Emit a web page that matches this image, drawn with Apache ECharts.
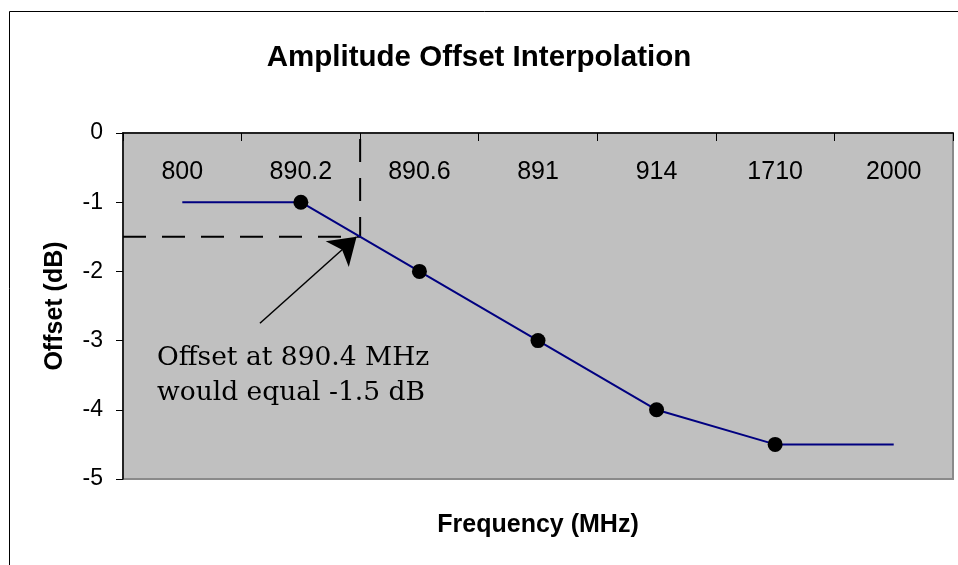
<!DOCTYPE html>
<html>
<head>
<meta charset="utf-8">
<script src="https://cdn.jsdelivr.net/npm/echarts@6/dist/echarts.min.js"></script>
<style>html,body{margin:0;padding:0;background:#fff;}#c{width:958px;height:565px;}</style>
</head>
<body>
<div id="c"></div>
<script>
var categories = ['800', '890.2', '890.6', '891', '914', '1710', '2000'];
var offsets = [-1, -1, -2, -3, -4, -4.5, -4.5];
var markers = [false, true, true, true, true, true, false];
var yTicks = [0, -1, -2, -3, -4, -5];
// interpolation guide (category index, dB)
var guideIndex = 1.5;
var guideValue = -1.5;
var arrowFrom = [0.655, -2.75];
var arrowTo = [1.47, -1.5];
var titleText = 'Amplitude Offset Interpolation';
var noteLines = ['Offset at 890.4 MHz', 'would equal -1.5 dB'];

var chart = echarts.init(document.getElementById('c'), null, {renderer: 'canvas'});
var mainData = offsets.map(function (v, i) {
  return markers[i] ? {value: v} : {value: v, symbol: 'none'};
});
var option = {
  animation: false,
  backgroundColor: '#ffffff',
  title: {
    text: titleText, left: 'center', top: 38,
    textStyle: {fontFamily: 'Liberation Sans', fontWeight: 'bold', fontSize: 29.5, color: '#000'}
  },
  graphic: [
    {type: 'rect', shape: {x: 9.5, y: 11.5, width: 1200, height: 1200}, style: {fill: 'none', stroke: '#000', lineWidth: 1}, z: 100},
    {type: 'text', left: 157, top: 341, z: 100,
     style: {text: noteLines.join('\n'), font: '26.5px "DejaVu Serif"', lineHeight: 35, fill: '#000'}}
  ],
  grid: {left: 123, top: 133, right: 5, bottom: 86, show: true, backgroundColor: '#c0c0c0', borderColor: '#8a8a8a', borderWidth: 2},
  xAxis: [
    {
      type: 'category', data: categories, position: 'top', boundaryGap: true,
      axisLine: {show: true, lineStyle: {color: '#000', width: 1.5}},
      axisTick: {show: true, inside: true, length: 8, alignWithLabel: false, lineStyle: {color: '#000', width: 1}},
      axisLabel: {inside: true, margin: 27, fontFamily: 'Liberation Sans', fontSize: 25, color: '#000'},
      splitLine: {show: false}
    },
    {
      type: 'value', position: 'bottom', min: -0.5, max: 6.5,
      axisLine: {show: false}, axisTick: {show: false}, axisLabel: {show: false}, splitLine: {show: false},
      name: 'Frequency (MHz)', nameLocation: 'middle', nameGap: 34,
      nameTextStyle: {fontFamily: 'Liberation Sans', fontWeight: 'bold', fontSize: 25, color: '#000'}
    }
  ],
  yAxis: {
    type: 'value', min: -5, max: 0, interval: 1,
    axisLine: {show: true, onZero: false, lineStyle: {color: '#000', width: 1.5}},
    axisTick: {show: true, inside: false, length: 7, lineStyle: {color: '#000'}},
    axisLabel: {margin: 20, fontFamily: 'Liberation Sans', fontSize: 23, color: '#000'},
    splitLine: {show: false},
    name: 'Offset (dB)', nameLocation: 'middle', nameGap: 55,
    nameTextStyle: {fontFamily: 'Liberation Sans', fontWeight: 'bold', fontSize: 25, color: '#000'}
  },
  series: [
    {
      type: 'line', xAxisIndex: 1, z: 2,
      data: [[-0.5, guideValue], [guideIndex, guideValue], [guideIndex, 0]],
      symbol: 'none', silent: true,
      lineStyle: {color: '#000', width: 2, type: [23, 16]},
      markLine: {
        silent: true, animation: false,
        symbol: ['none', 'arrow'], symbolSize: 26,
        label: {show: false},
        lineStyle: {color: '#000', width: 1.5, type: 'solid'},
        data: [[{coord: arrowFrom}, {coord: arrowTo}]]
      }
    },
    {
      type: 'line', xAxisIndex: 0, z: 3,
      data: mainData,
      symbol: 'circle', symbolSize: 15,
      itemStyle: {color: '#000'},
      lineStyle: {color: '#000080', width: 2}
    }
  ]
};
chart.setOption(option);
</script>
</body>
</html>
